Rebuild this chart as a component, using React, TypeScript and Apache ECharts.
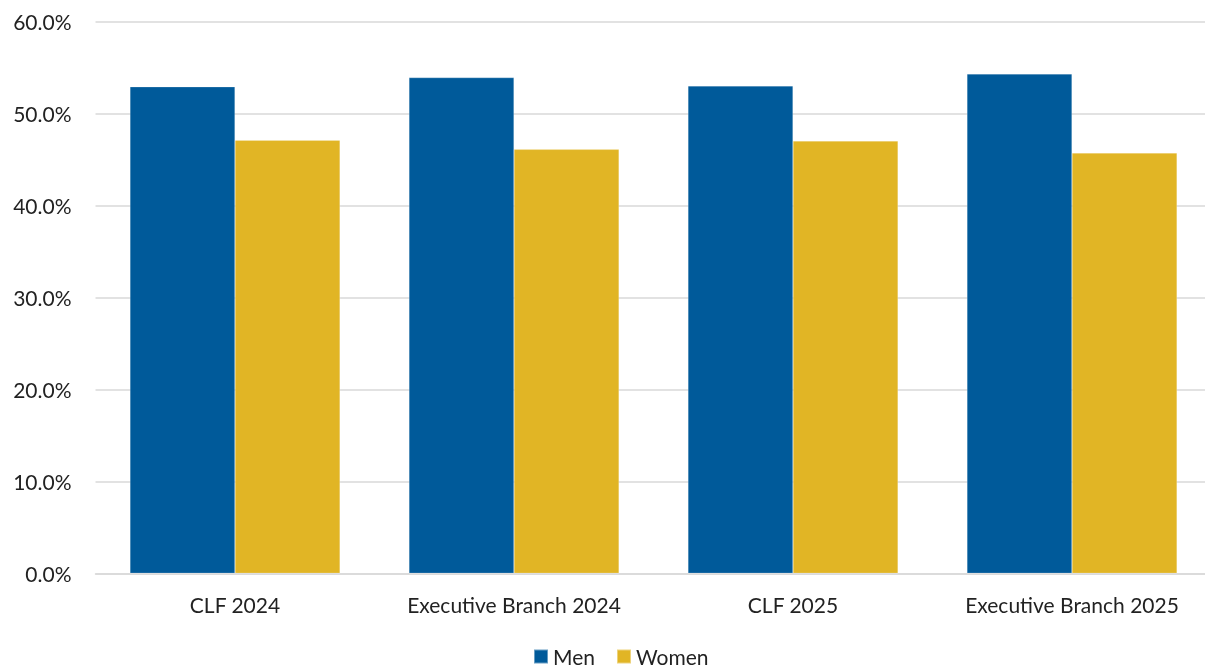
import React, { useEffect, useRef } from "react";
import * as echarts from "echarts";

const categories = ["CLF 2024", "Executive Branch 2024", "CLF 2025", "Executive Branch 2025"];
const menValues = [52.9, 53.9, 53.0, 54.3];
const womenValues = [47.1, 46.1, 47.0, 45.7];
const seriesNames = ["Men", "Women"];
const colors = ["#005A9A", "#E1B525"];

export default function App() {
  const ref = useRef<HTMLDivElement>(null);
  useEffect(() => {
    if (!ref.current) return;
    const chart = echarts.init(ref.current, undefined, { renderer: "svg" });
    const font = "Lato, 'Noto Sans', sans-serif";
    chart.setOption({
      animation: false,
      textStyle: { fontFamily: font },
      grid: {
        left: 95.5,
        width: 1116,
        top: 21.5,
        height: 551.8,
        containLabel: false,
        outerBoundsMode: "none",
      },
      legend: {
        top: 646,
        left: 533,
        padding: 0,
        itemWidth: 14,
        itemHeight: 14,
        itemGap: 21,
        icon: "rect",
        textStyle: { fontSize: 21, color: "#222", fontFamily: font },
        data: seriesNames,
      },
      xAxis: {
        type: "category",
        data: categories,
        axisLine: { lineStyle: { color: "#d9d9d9", width: 1.5 } },
        axisTick: { show: false },
        axisLabel: { fontSize: 21, color: "#222", margin: 21, interval: 0, fontFamily: font },
      },
      yAxis: {
        type: "value",
        min: 0,
        max: 60,
        interval: 10,
        axisLine: { show: false },
        axisTick: { show: false },
        axisLabel: {
          fontSize: 21,
          color: "#222",
          margin: 24,
          fontFamily: font,
          formatter: (v: number) => v.toFixed(1) + "%",
        },
        splitLine: { lineStyle: { color: "#d9d9d9", width: 1.5 } },
      },
      series: [
        {
          name: seriesNames[0],
          type: "bar",
          data: menValues,
          barGap: "0%",
          barCategoryGap: "24.7%",
          itemStyle: { color: colors[0], borderColor: "rgba(255,255,255,0.4)", borderWidth: 0.5 },
        },
        {
          name: seriesNames[1],
          type: "bar",
          data: womenValues,
          barGap: "0%",
          barCategoryGap: "24.7%",
          itemStyle: { color: colors[1], borderColor: "rgba(255,255,255,0.4)", borderWidth: 0.5 },
        },
      ],
    });
    return () => chart.dispose();
  }, []);
  return (
    <div
      ref={ref}
      style={{ position: "fixed", left: 0, top: 0, width: 1205, height: 669 }}
    />
  );
}
